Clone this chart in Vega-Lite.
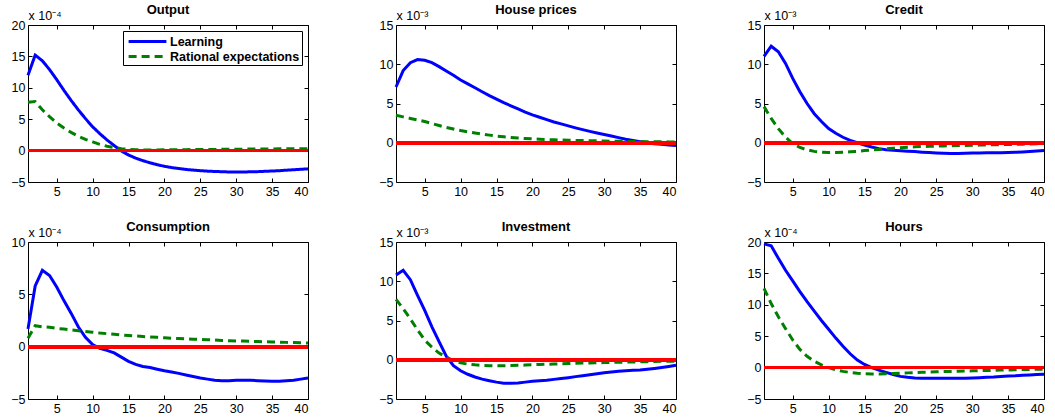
{
"$schema": "https://vega.github.io/schema/vega-lite/v6.json",
"background": "white",
"padding": {"left": 10, "top": 3, "right": 0, "bottom": 0},
"datasets": {
"output": [
{"t":1,"L":12.0,"R":7.7},{"t":2,"L":15.2,"R":7.8},{"t":3,"L":14.3,"R":6.5},{"t":4,"L":12.9,"R":5.4},{"t":5,"L":11.3,"R":4.4},
{"t":6,"L":9.6,"R":3.6},{"t":7,"L":8.0,"R":2.9},{"t":8,"L":6.5,"R":2.3},{"t":9,"L":5.1,"R":1.8},{"t":10,"L":3.8,"R":1.4},
{"t":11,"L":2.7,"R":1.0},{"t":12,"L":1.7,"R":0.7},{"t":13,"L":0.8,"R":0.5},{"t":14,"L":-0.05,"R":0.3},{"t":15,"L":-0.7,"R":0.2},
{"t":16,"L":-1.2,"R":0.15},{"t":17,"L":-1.6,"R":0.1},{"t":18,"L":-1.95,"R":0.1},{"t":19,"L":-2.25,"R":0.1},{"t":20,"L":-2.5,"R":0.12},
{"t":21,"L":-2.7,"R":0.13},{"t":22,"L":-2.85,"R":0.14},{"t":23,"L":-3.0,"R":0.15},{"t":24,"L":-3.1,"R":0.16},{"t":25,"L":-3.2,"R":0.17},
{"t":26,"L":-3.27,"R":0.18},{"t":27,"L":-3.32,"R":0.19},{"t":28,"L":-3.36,"R":0.2},{"t":29,"L":-3.4,"R":0.21},{"t":30,"L":-3.4,"R":0.22},
{"t":31,"L":-3.4,"R":0.23},{"t":32,"L":-3.38,"R":0.24},{"t":33,"L":-3.35,"R":0.25},{"t":34,"L":-3.3,"R":0.26},{"t":35,"L":-3.25,"R":0.27},
{"t":36,"L":-3.2,"R":0.28},{"t":37,"L":-3.12,"R":0.29},{"t":38,"L":-3.05,"R":0.3},{"t":39,"L":-2.98,"R":0.3},{"t":40,"L":-2.9,"R":0.3}
],
"house": [
{"t":1,"L":7.1,"R":3.5},{"t":2,"L":9.2,"R":3.3},{"t":3,"L":10.2,"R":3.1},{"t":4,"L":10.6,"R":2.9},{"t":5,"L":10.5,"R":2.7},
{"t":6,"L":10.2,"R":2.45},{"t":7,"L":9.7,"R":2.2},{"t":8,"L":9.15,"R":1.95},{"t":9,"L":8.6,"R":1.75},{"t":10,"L":8.0,"R":1.55},
{"t":11,"L":7.5,"R":1.4},{"t":12,"L":7.0,"R":1.25},{"t":13,"L":6.5,"R":1.1},{"t":14,"L":6.0,"R":0.97},{"t":15,"L":5.55,"R":0.86},
{"t":16,"L":5.1,"R":0.76},{"t":17,"L":4.7,"R":0.67},{"t":18,"L":4.3,"R":0.6},{"t":19,"L":3.9,"R":0.54},{"t":20,"L":3.55,"R":0.49},
{"t":21,"L":3.25,"R":0.45},{"t":22,"L":2.95,"R":0.41},{"t":23,"L":2.65,"R":0.38},{"t":24,"L":2.4,"R":0.35},{"t":25,"L":2.15,"R":0.32},
{"t":26,"L":1.9,"R":0.3},{"t":27,"L":1.67,"R":0.28},{"t":28,"L":1.45,"R":0.26},{"t":29,"L":1.25,"R":0.24},{"t":30,"L":1.05,"R":0.22},
{"t":31,"L":0.85,"R":0.2},{"t":32,"L":0.65,"R":0.19},{"t":33,"L":0.45,"R":0.17},{"t":34,"L":0.28,"R":0.16},{"t":35,"L":0.12,"R":0.15},
{"t":36,"L":-0.02,"R":0.14},{"t":37,"L":-0.12,"R":0.13},{"t":38,"L":-0.2,"R":0.12},{"t":39,"L":-0.28,"R":0.11},{"t":40,"L":-0.35,"R":0.1}
],
"credit": [
{"t":1,"L":11.0,"R":4.6},{"t":2,"L":12.3,"R":3.1},{"t":3,"L":11.6,"R":1.8},{"t":4,"L":10.1,"R":0.7},{"t":5,"L":8.2,"R":-0.1},
{"t":6,"L":6.5,"R":-0.6},{"t":7,"L":5.0,"R":-0.9},{"t":8,"L":3.7,"R":-1.1},{"t":9,"L":2.7,"R":-1.2},{"t":10,"L":1.8,"R":-1.25},
{"t":11,"L":1.2,"R":-1.25},{"t":12,"L":0.7,"R":-1.2},{"t":13,"L":0.3,"R":-1.15},{"t":14,"L":0.0,"R":-1.1},{"t":15,"L":-0.3,"R":-1.0},
{"t":16,"L":-0.55,"R":-0.92},{"t":17,"L":-0.75,"R":-0.85},{"t":18,"L":-0.88,"R":-0.78},{"t":19,"L":-0.97,"R":-0.7},{"t":20,"L":-1.03,"R":-0.63},
{"t":21,"L":-1.08,"R":-0.57},{"t":22,"L":-1.13,"R":-0.52},{"t":23,"L":-1.2,"R":-0.48},{"t":24,"L":-1.25,"R":-0.45},{"t":25,"L":-1.3,"R":-0.42},
{"t":26,"L":-1.35,"R":-0.4},{"t":27,"L":-1.38,"R":-0.38},{"t":28,"L":-1.38,"R":-0.36},{"t":29,"L":-1.35,"R":-0.34},{"t":30,"L":-1.3,"R":-0.32},
{"t":31,"L":-1.3,"R":-0.3},{"t":32,"L":-1.28,"R":-0.28},{"t":33,"L":-1.27,"R":-0.26},{"t":34,"L":-1.26,"R":-0.24},{"t":35,"L":-1.25,"R":-0.22},
{"t":36,"L":-1.22,"R":-0.2},{"t":37,"L":-1.18,"R":-0.18},{"t":38,"L":-1.12,"R":-0.15},{"t":39,"L":-1.06,"R":-0.12},{"t":40,"L":-1.0,"R":-0.1}
],
"consumption": [
{"t":1,"L":1.7,"R":0.8},{"t":2,"L":5.8,"R":2.0},{"t":3,"L":7.3,"R":1.9},{"t":4,"L":6.8,"R":1.85},{"t":5,"L":5.7,"R":1.75},
{"t":6,"L":4.4,"R":1.68},{"t":7,"L":3.2,"R":1.6},{"t":8,"L":1.9,"R":1.52},{"t":9,"L":0.9,"R":1.45},{"t":10,"L":0.2,"R":1.38},
{"t":11,"L":-0.15,"R":1.3},{"t":12,"L":-0.35,"R":1.24},{"t":13,"L":-0.6,"R":1.18},{"t":14,"L":-1.0,"R":1.12},{"t":15,"L":-1.4,"R":1.07},
{"t":16,"L":-1.7,"R":1.02},{"t":17,"L":-1.9,"R":0.97},{"t":18,"L":-2.0,"R":0.93},{"t":19,"L":-2.15,"R":0.89},{"t":20,"L":-2.3,"R":0.85},
{"t":21,"L":-2.42,"R":0.81},{"t":22,"L":-2.55,"R":0.78},{"t":23,"L":-2.7,"R":0.75},{"t":24,"L":-2.85,"R":0.72},{"t":25,"L":-3.0,"R":0.69},
{"t":26,"L":-3.1,"R":0.66},{"t":27,"L":-3.2,"R":0.63},{"t":28,"L":-3.25,"R":0.6},{"t":29,"L":-3.25,"R":0.57},{"t":30,"L":-3.22,"R":0.55},
{"t":31,"L":-3.22,"R":0.53},{"t":32,"L":-3.22,"R":0.51},{"t":33,"L":-3.25,"R":0.49},{"t":34,"L":-3.28,"R":0.47},{"t":35,"L":-3.3,"R":0.45},
{"t":36,"L":-3.3,"R":0.43},{"t":37,"L":-3.25,"R":0.41},{"t":38,"L":-3.2,"R":0.39},{"t":39,"L":-3.1,"R":0.37},{"t":40,"L":-3.0,"R":0.35}
],
"investment": [
{"t":1,"L":10.8,"R":7.7},{"t":2,"L":11.4,"R":6.5},{"t":3,"L":10.2,"R":5.2},{"t":4,"L":8.2,"R":3.8},{"t":5,"L":6.3,"R":2.5},
{"t":6,"L":4.2,"R":1.6},{"t":7,"L":2.3,"R":0.85},{"t":8,"L":0.45,"R":0.35},{"t":9,"L":-0.75,"R":-0.1},{"t":10,"L":-1.4,"R":-0.4},
{"t":11,"L":-1.85,"R":-0.55},{"t":12,"L":-2.2,"R":-0.65},{"t":13,"L":-2.47,"R":-0.72},{"t":14,"L":-2.67,"R":-0.76},{"t":15,"L":-2.85,"R":-0.77},
{"t":16,"L":-3.0,"R":-0.76},{"t":17,"L":-3.0,"R":-0.74},{"t":18,"L":-2.95,"R":-0.71},{"t":19,"L":-2.85,"R":-0.68},{"t":20,"L":-2.75,"R":-0.64},
{"t":21,"L":-2.67,"R":-0.6},{"t":22,"L":-2.6,"R":-0.57},{"t":23,"L":-2.5,"R":-0.54},{"t":24,"L":-2.4,"R":-0.51},{"t":25,"L":-2.28,"R":-0.48},
{"t":26,"L":-2.15,"R":-0.45},{"t":27,"L":-2.03,"R":-0.42},{"t":28,"L":-1.9,"R":-0.4},{"t":29,"L":-1.78,"R":-0.38},{"t":30,"L":-1.65,"R":-0.36},
{"t":31,"L":-1.55,"R":-0.34},{"t":32,"L":-1.47,"R":-0.32},{"t":33,"L":-1.4,"R":-0.3},{"t":34,"L":-1.35,"R":-0.28},{"t":35,"L":-1.3,"R":-0.26},
{"t":36,"L":-1.2,"R":-0.24},{"t":37,"L":-1.1,"R":-0.22},{"t":38,"L":-0.98,"R":-0.2},{"t":39,"L":-0.85,"R":-0.19},{"t":40,"L":-0.7,"R":-0.18}
],
"hours": [
{"t":1,"L":19.7,"R":12.6},{"t":2,"L":19.4,"R":10.2},{"t":3,"L":17.4,"R":8.1},{"t":4,"L":15.5,"R":6.2},{"t":5,"L":13.8,"R":4.4},
{"t":6,"L":12.1,"R":2.9},{"t":7,"L":10.5,"R":1.8},{"t":8,"L":9.0,"R":1.0},{"t":9,"L":7.5,"R":0.45},{"t":10,"L":6.1,"R":0.0},
{"t":11,"L":4.7,"R":-0.35},{"t":12,"L":3.4,"R":-0.6},{"t":13,"L":2.2,"R":-0.78},{"t":14,"L":1.2,"R":-0.9},{"t":15,"L":0.5,"R":-0.97},
{"t":16,"L":0.0,"R":-1.0},{"t":17,"L":-0.4,"R":-1.0},{"t":18,"L":-0.75,"R":-0.97},{"t":19,"L":-1.1,"R":-0.93},{"t":20,"L":-1.4,"R":-0.88},
{"t":21,"L":-1.55,"R":-0.84},{"t":22,"L":-1.65,"R":-0.8},{"t":23,"L":-1.7,"R":-0.76},{"t":24,"L":-1.7,"R":-0.72},{"t":25,"L":-1.7,"R":-0.68},
{"t":26,"L":-1.7,"R":-0.64},{"t":27,"L":-1.7,"R":-0.61},{"t":28,"L":-1.7,"R":-0.58},{"t":29,"L":-1.68,"R":-0.55},{"t":30,"L":-1.65,"R":-0.52},
{"t":31,"L":-1.6,"R":-0.49},{"t":32,"L":-1.55,"R":-0.46},{"t":33,"L":-1.5,"R":-0.43},{"t":34,"L":-1.42,"R":-0.4},{"t":35,"L":-1.35,"R":-0.37},
{"t":36,"L":-1.3,"R":-0.34},{"t":37,"L":-1.22,"R":-0.31},{"t":38,"L":-1.16,"R":-0.29},{"t":39,"L":-1.1,"R":-0.27},{"t":40,"L":-1.05,"R":-0.25}
]
},
"columns": 3,
"spacing": {"row": 60, "column": 88},
"bounds": "flush",
"resolve": {"scale": {"color": "independent", "strokeDash": "independent"}},
"concat": [
{
"title": "Output", "width": 280, "height": 157, "data": {"name": "output"},
"resolve": {"axis": {"x": "independent", "y": "independent"}},
"layer": [
{"mark": {"type": "line", "strokeWidth": 3},
 "encoding": {
  "x": {"field": "t", "type": "quantitative", "scale": {"domain": [1, 40], "nice": false}, "axis": {"orient": "bottom", "values": [5,10,15,20,25,30,35,40], "title": null}},
  "y": {"field": "L", "type": "quantitative", "scale": {"domain": [-5, 20], "nice": false}, "axis": {"orient": "left", "values": [-5,0,5,10,15,20], "title": "x 10⁻⁴"}},
  "color": {"datum": "Learning", "scale": {"domain": ["Learning", "Rational expectations"], "range": ["#0000ff", "#008000"]}, "legend": {"title": null}},
  "strokeDash": {"datum": "Learning", "scale": {"domain": ["Learning", "Rational expectations"], "range": [[1, 0], [8, 5]]}, "legend": {"title": null}}
 }},
{"mark": {"type": "line", "strokeWidth": 3},
 "encoding": {
  "x": {"field": "t", "type": "quantitative", "axis": {"orient": "top", "values": [5,10,15,20,25,30,35,40], "labels": false, "title": null}},
  "y": {"field": "R", "type": "quantitative", "axis": {"orient": "right", "values": [-5,0,5,10,15,20], "labels": false, "title": null}},
  "color": {"datum": "Rational expectations"},
  "strokeDash": {"datum": "Rational expectations"}
 }},
{"mark": {"type": "rule", "color": "#ff0000", "strokeWidth": 3}, "encoding": {"y": {"datum": 0, "type": "quantitative", "axis": null}}}
]
},
{
"title": "House prices", "width": 280, "height": 157, "data": {"name": "house"},
"resolve": {"axis": {"x": "independent", "y": "independent"}},
"layer": [
{"mark": {"type": "line", "strokeWidth": 3, "color": "#0000ff"},
 "encoding": {
  "x": {"field": "t", "type": "quantitative", "scale": {"domain": [1, 40], "nice": false}, "axis": {"orient": "bottom", "values": [5,10,15,20,25,30,35,40], "title": null}},
  "y": {"field": "L", "type": "quantitative", "scale": {"domain": [-5, 15], "nice": false}, "axis": {"orient": "left", "values": [-5,0,5,10,15], "title": "x 10⁻³"}}
 }},
{"mark": {"type": "line", "strokeWidth": 3, "color": "#008000", "strokeDash": [8, 5]},
 "encoding": {
  "x": {"field": "t", "type": "quantitative", "axis": {"orient": "top", "values": [5,10,15,20,25,30,35,40], "labels": false, "title": null}},
  "y": {"field": "R", "type": "quantitative", "axis": {"orient": "right", "values": [-5,0,5,10,15], "labels": false, "title": null}}
 }},
{"mark": {"type": "rule", "color": "#ff0000", "strokeWidth": 3}, "encoding": {"y": {"datum": 0, "type": "quantitative", "axis": null}}}
]
},
{
"title": "Credit", "width": 280, "height": 157, "data": {"name": "credit"},
"resolve": {"axis": {"x": "independent", "y": "independent"}},
"layer": [
{"mark": {"type": "line", "strokeWidth": 3, "color": "#0000ff"},
 "encoding": {
  "x": {"field": "t", "type": "quantitative", "scale": {"domain": [1, 40], "nice": false}, "axis": {"orient": "bottom", "values": [5,10,15,20,25,30,35,40], "title": null}},
  "y": {"field": "L", "type": "quantitative", "scale": {"domain": [-5, 15], "nice": false}, "axis": {"orient": "left", "values": [-5,0,5,10,15], "title": "x 10⁻³"}}
 }},
{"mark": {"type": "line", "strokeWidth": 3, "color": "#008000", "strokeDash": [8, 5]},
 "encoding": {
  "x": {"field": "t", "type": "quantitative", "axis": {"orient": "top", "values": [5,10,15,20,25,30,35,40], "labels": false, "title": null}},
  "y": {"field": "R", "type": "quantitative", "axis": {"orient": "right", "values": [-5,0,5,10,15], "labels": false, "title": null}}
 }},
{"mark": {"type": "rule", "color": "#ff0000", "strokeWidth": 3}, "encoding": {"y": {"datum": 0, "type": "quantitative", "axis": null}}}
]
},
{
"title": "Consumption", "width": 280, "height": 157, "data": {"name": "consumption"},
"resolve": {"axis": {"x": "independent", "y": "independent"}},
"layer": [
{"mark": {"type": "line", "strokeWidth": 3, "color": "#0000ff"},
 "encoding": {
  "x": {"field": "t", "type": "quantitative", "scale": {"domain": [1, 40], "nice": false}, "axis": {"orient": "bottom", "values": [5,10,15,20,25,30,35,40], "title": null}},
  "y": {"field": "L", "type": "quantitative", "scale": {"domain": [-5, 10], "nice": false}, "axis": {"orient": "left", "values": [-5,0,5,10], "title": "x 10⁻⁴"}}
 }},
{"mark": {"type": "line", "strokeWidth": 3, "color": "#008000", "strokeDash": [8, 5]},
 "encoding": {
  "x": {"field": "t", "type": "quantitative", "axis": {"orient": "top", "values": [5,10,15,20,25,30,35,40], "labels": false, "title": null}},
  "y": {"field": "R", "type": "quantitative", "axis": {"orient": "right", "values": [-5,0,5,10], "labels": false, "title": null}}
 }},
{"mark": {"type": "rule", "color": "#ff0000", "strokeWidth": 3}, "encoding": {"y": {"datum": 0, "type": "quantitative", "axis": null}}}
]
},
{
"title": "Investment", "width": 280, "height": 157, "data": {"name": "investment"},
"resolve": {"axis": {"x": "independent", "y": "independent"}},
"layer": [
{"mark": {"type": "line", "strokeWidth": 3, "color": "#0000ff"},
 "encoding": {
  "x": {"field": "t", "type": "quantitative", "scale": {"domain": [1, 40], "nice": false}, "axis": {"orient": "bottom", "values": [5,10,15,20,25,30,35,40], "title": null}},
  "y": {"field": "L", "type": "quantitative", "scale": {"domain": [-5, 15], "nice": false}, "axis": {"orient": "left", "values": [-5,0,5,10,15], "title": "x 10⁻³"}}
 }},
{"mark": {"type": "line", "strokeWidth": 3, "color": "#008000", "strokeDash": [8, 5]},
 "encoding": {
  "x": {"field": "t", "type": "quantitative", "axis": {"orient": "top", "values": [5,10,15,20,25,30,35,40], "labels": false, "title": null}},
  "y": {"field": "R", "type": "quantitative", "axis": {"orient": "right", "values": [-5,0,5,10,15], "labels": false, "title": null}}
 }},
{"mark": {"type": "rule", "color": "#ff0000", "strokeWidth": 3}, "encoding": {"y": {"datum": 0, "type": "quantitative", "axis": null}}}
]
},
{
"title": "Hours", "width": 280, "height": 157, "data": {"name": "hours"},
"resolve": {"axis": {"x": "independent", "y": "independent"}},
"layer": [
{"mark": {"type": "line", "strokeWidth": 3, "color": "#0000ff"},
 "encoding": {
  "x": {"field": "t", "type": "quantitative", "scale": {"domain": [1, 40], "nice": false}, "axis": {"orient": "bottom", "values": [5,10,15,20,25,30,35,40], "title": null}},
  "y": {"field": "L", "type": "quantitative", "scale": {"domain": [-5, 20], "nice": false}, "axis": {"orient": "left", "values": [-5,0,5,10,15,20], "title": "x 10⁻⁴"}}
 }},
{"mark": {"type": "line", "strokeWidth": 3, "color": "#008000", "strokeDash": [8, 5]},
 "encoding": {
  "x": {"field": "t", "type": "quantitative", "axis": {"orient": "top", "values": [5,10,15,20,25,30,35,40], "labels": false, "title": null}},
  "y": {"field": "R", "type": "quantitative", "axis": {"orient": "right", "values": [-5,0,5,10,15,20], "labels": false, "title": null}}
 }},
{"mark": {"type": "rule", "color": "#ff0000", "strokeWidth": 3}, "encoding": {"y": {"datum": 0, "type": "quantitative", "axis": null}}}
]
}
],
"config": {
 "font": "Liberation Sans",
 "view": {"stroke": "black", "strokeWidth": 1},
 "axis": {"grid": false, "domain": false, "ticks": true, "tickColor": "black", "tickSize": -4, "tickWidth": 1, "labelColor": "black", "labelFontSize": 12.5, "labelFont": "Liberation Sans", "labelPadding": 7,
   "titleAngle": 0, "titleAlign": "left", "titleBaseline": "alphabetic", "titleX": 0, "titleY": -6, "titleFontSize": 12.5, "titleFontWeight": "normal", "titleColor": "black", "titleFont": "Liberation Sans"},
 "title": {"fontSize": 13, "fontWeight": "bold", "offset": -8, "color": "black", "font": "Liberation Sans", "anchor": "middle"},
 "legend": {"orient": "top-right", "offset": 6, "fillColor": "white", "strokeColor": "black", "padding": 2, "symbolType": "M-2.7,0L2.7,0", "symbolSize": 196, "symbolStrokeWidth": 3, "symbolOffset": 14, "labelFontSize": 12.5, "labelFontWeight": "bold", "labelColor": "black", "labelFont": "Liberation Sans", "rowPadding": 0, "labelOffset": 14}
}
}
